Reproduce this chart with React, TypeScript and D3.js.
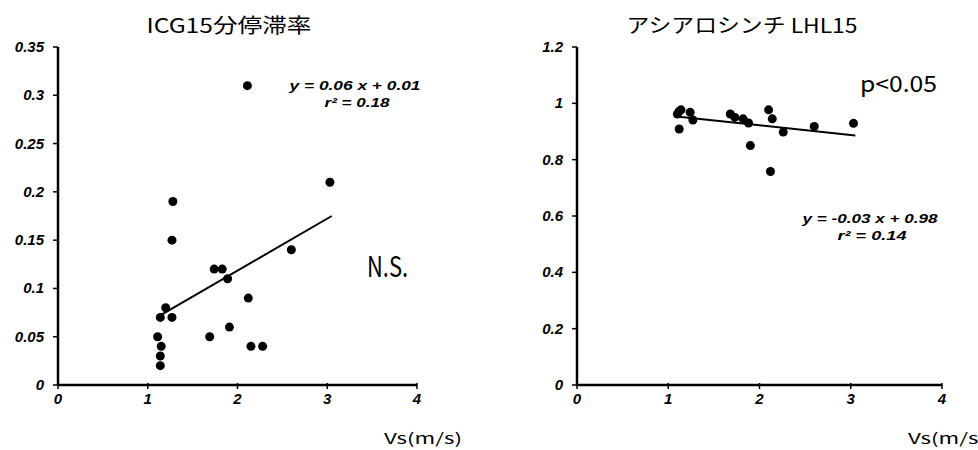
import React from 'react';
import * as d3 from 'd3';

// ICG15 retention rate vs Vs
const icgX = [3.03, 1.28, 1.27, 1.74, 1.83, 1.89, 2.6, 2.12, 1.2, 1.14, 1.27, 1.69, 1.91, 2.15, 2.28, 1.11, 1.15, 1.14, 1.14, 2.11];
const icgY = [0.21, 0.19, 0.15, 0.12, 0.12, 0.11, 0.14, 0.09, 0.08, 0.07, 0.07, 0.05, 0.06, 0.04, 0.04, 0.05, 0.04, 0.03, 0.02, 0.31];
const icgFitX = [1.12, 3.05];
const icgFitY = [0.071, 0.175];
const icgYTicks = [0, 0.05, 0.1, 0.15, 0.2, 0.25, 0.3, 0.35];

// asialo scinti LHL15 vs Vs
const lhlX = [1.1, 1.12, 1.14, 1.24, 1.27, 1.12, 1.68, 1.73, 1.82, 1.88, 1.9, 2.1, 2.14, 2.26, 2.12, 2.6, 3.03];
const lhlY = [0.962, 0.972, 0.977, 0.968, 0.941, 0.909, 0.962, 0.95, 0.945, 0.93, 0.85, 0.977, 0.945, 0.898, 0.758, 0.918, 0.929];
const lhlFitX = [1.09, 3.05];
const lhlFitY = [0.953, 0.886];
const lhlYTicks = [0, 0.2, 0.4, 0.6, 0.8, 1, 1.2];

const xTicks = [0, 1, 2, 3, 4];

const tickFont = '"Liberation Sans", Arial, sans-serif';
const gothic = '"Noto Sans CJK JP", "Noto Sans", sans-serif';

interface PanelProps {
  left: number;
  right: number;
  yMax: number;
  yTicks: number[];
  xs: number[];
  ys: number[];
  fitX: number[];
  fitY: number[];
  title: string;
  titleX: number;
  titleLen: number;
  eq1: string;
  eq2: string;
  eqX: number;
  eqY: number;
  eq1Len: number;
  eq2Len: number;
  note: string;
  noteX: number;
  noteY: number;
  noteLen: number;
  noteSize: number;
  labelX: number;
}

const Panel: React.FC<PanelProps> = (p) => {
  const top = 47;
  const bottom = 385;
  const x = d3.scaleLinear().domain([0, 4]).range([p.left, p.right]);
  const y = d3.scaleLinear().domain([0, p.yMax]).range([bottom, top]);
  const fmt = (v: number) => (v === 0 ? '0' : String(v));
  const line = d3.line<number>().x((d) => x(d)).y((_, i) => y(p.fitY[i]));

  return (
    <g>
      <text x={p.titleX} y={33} fontFamily={gothic} fontSize={20} textLength={p.titleLen} lengthAdjust="spacingAndGlyphs" textAnchor="middle">{p.title}</text>

      {/* axes */}
      <line x1={p.left} x2={p.left} y1={top} y2={bottom} stroke="#000" strokeWidth={2.5} />
      <line x1={p.left} x2={p.right} y1={bottom} y2={bottom} stroke="#000" strokeWidth={2.5} />
      {p.yTicks.map((t) => (
        <g key={'y' + t}>
          <line x1={p.left - 5} x2={p.left} y1={y(t)} y2={y(t)} stroke="#000" strokeWidth={1.5} />
          <text x={p.left - 14} y={y(t) + 5} textAnchor="end" fontFamily={tickFont} fontWeight="bold" fontStyle="italic" fontSize={15}>{fmt(t)}</text>
        </g>
      ))}
      {xTicks.map((t) => (
        <g key={'x' + t}>
          <line x1={x(t)} x2={x(t)} y1={bottom - 2} y2={bottom + 4} stroke="#000" strokeWidth={1.5} />
          <text x={x(t)} y={404} textAnchor="middle" fontFamily={tickFont} fontWeight="bold" fontStyle="italic" fontSize={15}>{t}</text>
        </g>
      ))}
      <text x={p.labelX} y={444} fontFamily={gothic} fontSize={15} textLength={78} lengthAdjust="spacingAndGlyphs">Vs(m/s)</text>

      {/* regression line */}
      <path d={line(p.fitX) || ''} fill="none" stroke="#000" strokeWidth={2} />

      {p.xs.map((v, i) => (
        <circle key={i} cx={x(v)} cy={y(p.ys[i])} r={4.5} fill="#000" />
      ))}

      <text x={p.eqX} y={p.eqY} textAnchor="middle" fontFamily={tickFont} fontWeight="bold" fontStyle="italic" fontSize={12} textLength={p.eq1Len} lengthAdjust="spacingAndGlyphs">{p.eq1}</text>
      <text x={p.eqX + 2} y={p.eqY + 17} textAnchor="middle" fontFamily={tickFont} fontWeight="bold" fontStyle="italic" fontSize={12} textLength={p.eq2Len} lengthAdjust="spacingAndGlyphs">{p.eq2}</text>

      <text x={p.noteX} y={p.noteY} fontFamily={gothic} fontSize={p.noteSize} textLength={p.noteLen} lengthAdjust="spacingAndGlyphs">{p.note}</text>
    </g>
  );
};

export default function App() {
  return (
    <svg width={978} height={450} style={{ position: 'absolute', left: 0, top: 0, background: '#fff' }}>
      <rect width={978} height={450} fill="#fff" />
      <Panel
        left={58} right={417} yMax={0.35} yTicks={icgYTicks}
        xs={icgX} ys={icgY} fitX={icgFitX} fitY={icgFitY}
        title="ICG15分停滞率" titleX={229} titleLen={165}
        eq1="y = 0.06 x + 0.01" eq2="r² = 0.18" eqX={355} eqY={90} eq1Len={131} eq2Len={65}
        note="N.S." noteX={367} noteY={277} noteLen={41} noteSize={29}
        labelX={384}
      />
      <Panel
        left={577} right={942} yMax={1.2} yTicks={lhlYTicks}
        xs={lhlX} ys={lhlY} fitX={lhlFitX} fitY={lhlFitY}
        title="アシアロシンチ LHL15" titleX={742} titleLen={231}
        eq1="y = -0.03 x + 0.98" eq2="r² = 0.14" eqX={870} eqY={223} eq1Len={135} eq2Len={69}
        note="p<0.05" noteX={860} noteY={92} noteLen={77} noteSize={22}
        labelX={908}
      />
    </svg>
  );
}
